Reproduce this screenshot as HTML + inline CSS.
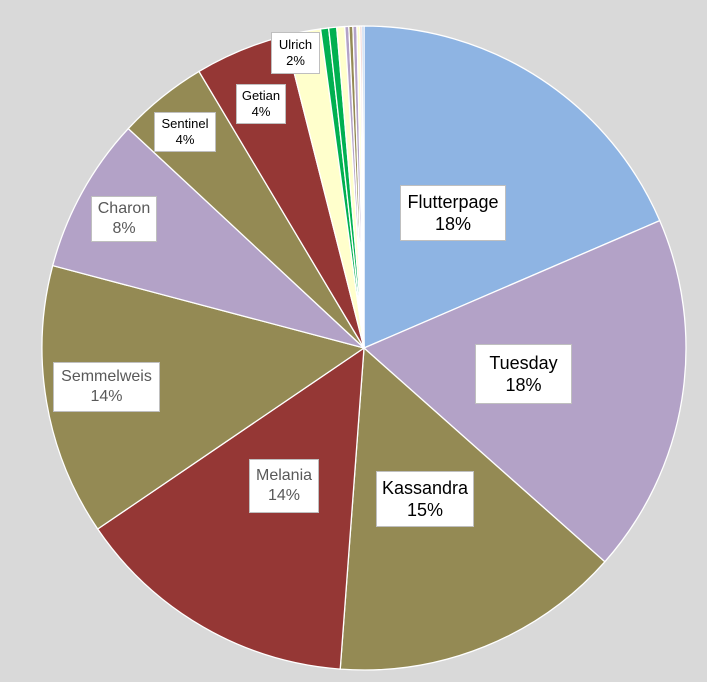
<!DOCTYPE html>
<html><head><meta charset="utf-8"><style>
body{margin:0;background:#d9d9d9;width:707px;height:682px;overflow:hidden;font-family:"Liberation Sans",sans-serif}
.lbl{position:absolute;background:#fff;border:1px solid #bfbfbf;text-align:center;box-sizing:border-box;display:flex;flex-direction:column;justify-content:center;line-height:1.25}
</style></head><body>
<svg id="pie" width="707" height="682" style="position:absolute;left:0;top:0"></svg>
<div id="labels"></div>
<script>
const names=["Flutterpage","Tuesday","Kassandra","Melania","Semmelweis","Charon","Sentinel","Getian","Ulrich","s10","s11","s12","s13","s14","s15","s16","s17","s18"];
const values=[18.5,18.0,14.6,14.3,13.6,7.8,4.5,4.6,1.8,0.4,0.4,0.4,0.2,0.2,0.2,0.15,0.1,0.1];
const pctLabels=["18%","18%","15%","14%","14%","8%","4%","4%","2%"];
const colors=["#8EB4E3","#B3A2C7","#948A54","#953735","#948A54","#B3A2C7","#948A54","#953735","#FFFFCC","#00B050","#00B050","#FFFFCC","#B3A2C7","#948A54","#B3A2C7","#FFFFCC","#E6B9B8","#8EB4E3"];
const labelBoxes=[[400,185,106,56,18,"#000"],[475,344,97,60,18,"#000"],[376,471,98,56,18,"#000"],[249,459,70,54,16,"#595959"],[53,362,107,50,16,"#595959"],[91,196,66,46,16,"#595959"],[154,112,62,40,13,"#000"],[236,84,50,40,13,"#000"],[271,32,49,42,13,"#000"]];
const cx=364,cy=348,r=322;
const svg=document.getElementById('pie');
const total=values.reduce((a,b)=>a+b,0);
function pt(a){return [cx+r*Math.sin(a),cy-r*Math.cos(a)];}
let acc=0;
values.forEach((v,i)=>{
  const a0=acc/total*2*Math.PI; acc+=v; const a1=acc/total*2*Math.PI;
  const p0=pt(a0),p1=pt(a1);
  const path=document.createElementNS('http://www.w3.org/2000/svg','path');
  path.setAttribute('d',`M${cx},${cy}L${p0[0]},${p0[1]}A${r},${r} 0 ${a1-a0>Math.PI?1:0} 1 ${p1[0]},${p1[1]}Z`);
  path.setAttribute('fill',colors[i]);
  path.setAttribute('stroke','#fff');
  path.setAttribute('stroke-width','1.3');
  
  
  svg.appendChild(path);
});
const L=document.getElementById('labels');
labelBoxes.forEach((b,i)=>{
  const d=document.createElement('div');
  d.className='lbl';
  d.style.cssText+=`left:${b[0]}px;top:${b[1]}px;width:${b[2]}px;height:${b[3]}px;font-size:${b[4]}px;color:${b[5]}`;
  d.innerHTML=`<span>${names[i]}</span><span>${pctLabels[i]}</span>`;
  
  
  L.appendChild(d);
});
</script>
</body></html>
